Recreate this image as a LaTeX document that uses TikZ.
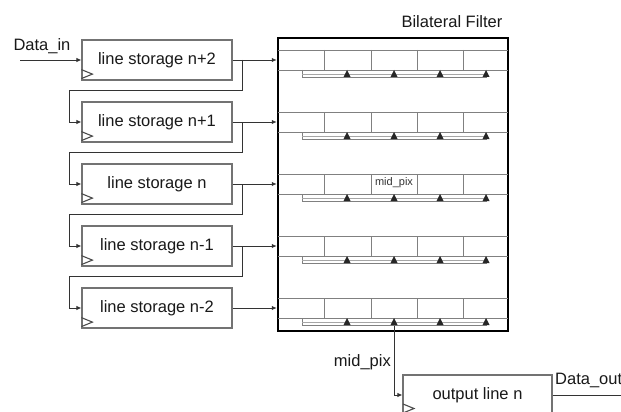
\documentclass[tikz,border=0pt]{standalone}
\usepackage{fontspec}
\setmainfont{Liberation Sans}
\usetikzlibrary{arrows.meta,calc}
\begin{document}
\begin{tikzpicture}[x=1pt,y=-1pt,
  box/.style={draw=black!55,line width=1.2pt,minimum width=150pt,minimum height=40pt,inner sep=0pt,font=\fontsize{16.5}{18}\selectfont,text=black!90},
  conn/.style={draw=black!80,line width=0.9pt},
  arr/.style={conn,-{Latex[length=5pt,width=4.5pt]}},
  lbl/.style={font=\fontsize{16.5}{18}\selectfont,text=black!90,inner sep=0pt},
  cell/.style={draw=black!50,line width=0.8pt},
  clk/.style={draw=black!70,line width=1.1pt},
  ]
\clip (0,0) rectangle (621,412);
\fill[white] (0,0) rectangle (621,412);
% line storage boxes
\foreach \i/\t in {0/n+2,1/n+1,2/n,3/n-1,4/n-2}{
  \node[box] (s\i) at (157,{60+62*\i}) {line storage \t};
  \draw[clk] ($(s\i.south west)+(0,-11)$) -- ++(11,4.5) -- ++(-11,4.5);
}
% bilateral filter
\node[draw=black,line width=2.5pt,minimum width=230pt,minimum height=293pt,inner sep=0pt] (bf) at (393,184.5) {};
\node[lbl] (bft) at (452,22) {Bilateral Filter};
\foreach \i in {0,...,4}{
  \pgfmathsetmacro{\yt}{50+62*\i}
  \pgfmathsetmacro{\yb}{70+62*\i}
  \pgfmathsetmacro{\yr}{77+62*\i}
  \draw[cell] (278,\yt) -- (508,\yt);
  \draw[cell] (278,\yb) -- (508,\yb);
  \foreach \x in {324,371,417,463}{ \draw[cell] (\x,\yt) -- (\x,\yb); }
  \draw[cell] (302,\yb) -- (302,\yr) -- (487,\yr);
  \draw[draw=black!35,line width=0.6pt] (302,\yr-3) -- (487,\yr-3);
  \foreach \x in {347,394,440,486}{ \fill[black!85] (\x-3.5,\yr) -- (\x,\yb) -- (\x+3.5,\yr) -- cycle; }
}
\node[font=\fontsize{11}{12}\selectfont,text=black!80,inner sep=0pt] (mp) at (394,183) {mid\_pix};
% data in
\coordinate (din) at (20,60);
\draw[arr] (din) -- (s0.west);
\node[lbl] (dint) at (42,46) {Data\_in};
% connections
\foreach \i in {0,...,4}{
  \draw[arr] (s\i.east) -- (bf.west |- s\i.east);
}
\foreach \i/\j in {0/1,1/2,2/3,3/4}{
  \coordinate (b\i) at ($(s\i.east)+(10,0)$);
  \draw[arr] (b\i) -- ++(0,30) -- ($(s\j.west)+(-12,-32)$) -- ($(s\j.west)+(-12,0)$) -- (s\j.west);
}
% output
\node[box,minimum width=149pt,minimum height=40pt] (out) at (477.5,395) {output line n};
\draw[clk] (403,404) -- ++(11,4.5) -- ++(-11,4.5);
\coordinate (tap) at (394,326);
\draw[arr] (tap) |- (out.west);
\node[lbl,anchor=east] (mpl) at (391,362) {mid\_pix};
\coordinate (dout) at (621,395);
\draw[conn] (out.east) -- (dout);
\node[lbl,anchor=west] (doutt) at (555,380) {Data\_out};
\end{tikzpicture}
\end{document}
